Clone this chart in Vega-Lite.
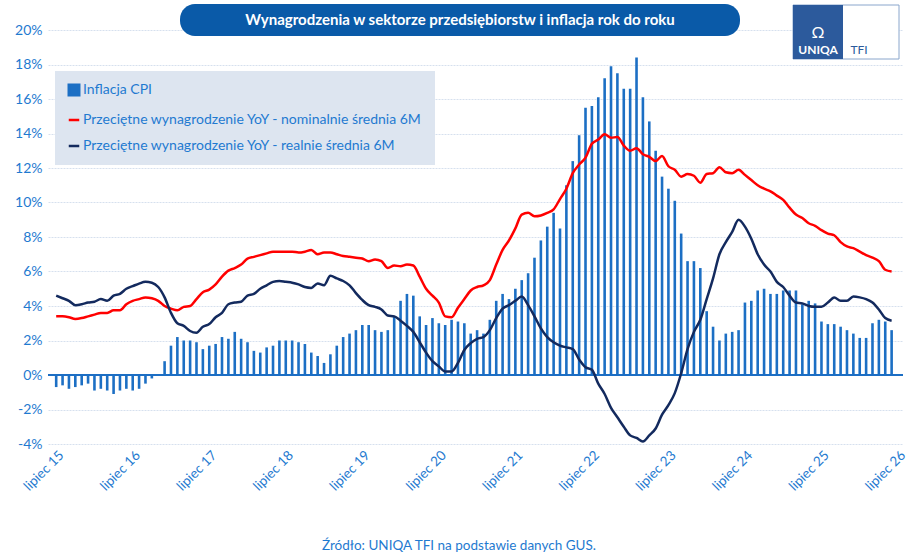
{
"$schema":"https://vega.github.io/schema/vega-lite/v6.json",
"autosize":"none","width":855,"height":414,
"padding":{"left":48,"top":30,"right":6,"bottom":110},
"background":"white",
"config":{"view":{"stroke":null},"font":"Lato","axis":{"labelFont":"Lato","labelColor":"#1f7ad0"}},
"datasets":{"d":[
{"m":0,"cpi":-0.7,"nom":3.4,"real":4.6},{"m":1,"cpi":-0.6,"nom":3.4,"real":4.45},{"m":2,"cpi":-0.8,"nom":3.35,"real":4.3},{"m":3,"cpi":-0.7,"nom":3.25,"real":4.05},{"m":4,"cpi":-0.6,"nom":3.3,"real":4.1},{"m":5,"cpi":-0.5,"nom":3.4,"real":4.2},{"m":6,"cpi":-0.9,"nom":3.5,"real":4.25},{"m":7,"cpi":-0.8,"nom":3.6,"real":4.4},{"m":8,"cpi":-0.9,"nom":3.6,"real":4.3},{"m":9,"cpi":-1.1,"nom":3.75,"real":4.6},
{"m":10,"cpi":-0.9,"nom":3.75,"real":4.7},{"m":11,"cpi":-0.8,"nom":4.1,"real":5.0},{"m":12,"cpi":-0.9,"nom":4.3,"real":5.15},{"m":13,"cpi":-0.8,"nom":4.4,"real":5.3},{"m":14,"cpi":-0.5,"nom":4.5,"real":5.4},{"m":15,"cpi":-0.2,"nom":4.45,"real":5.35},{"m":16,"cpi":0.0,"nom":4.3,"real":5.1},{"m":17,"cpi":0.8,"nom":4.0,"real":4.5},{"m":18,"cpi":1.7,"nom":3.85,"real":3.6},{"m":19,"cpi":2.2,"nom":3.75,"real":3.0},
{"m":20,"cpi":2.0,"nom":3.95,"real":2.85},{"m":21,"cpi":2.0,"nom":4.0,"real":2.55},{"m":22,"cpi":1.9,"nom":4.4,"real":2.45},{"m":23,"cpi":1.5,"nom":4.8,"real":2.8},{"m":24,"cpi":1.7,"nom":4.95,"real":2.95},{"m":25,"cpi":1.8,"nom":5.25,"real":3.35},{"m":26,"cpi":2.2,"nom":5.7,"real":3.6},{"m":27,"cpi":2.1,"nom":6.05,"real":4.1},{"m":28,"cpi":2.5,"nom":6.2,"real":4.2},{"m":29,"cpi":2.1,"nom":6.4,"real":4.25},
{"m":30,"cpi":1.9,"nom":6.75,"real":4.6},{"m":31,"cpi":1.4,"nom":6.85,"real":4.7},{"m":32,"cpi":1.3,"nom":6.95,"real":5.0},{"m":33,"cpi":1.6,"nom":7.05,"real":5.2},{"m":34,"cpi":1.7,"nom":7.15,"real":5.4},{"m":35,"cpi":2.0,"nom":7.15,"real":5.45},{"m":36,"cpi":2.0,"nom":7.15,"real":5.4},{"m":37,"cpi":2.0,"nom":7.15,"real":5.35},{"m":38,"cpi":1.9,"nom":7.1,"real":5.25},{"m":39,"cpi":1.8,"nom":7.15,"real":5.1},
{"m":40,"cpi":1.3,"nom":7.25,"real":5.05},{"m":41,"cpi":1.1,"nom":7.0,"real":5.3},{"m":42,"cpi":0.7,"nom":7.1,"real":5.2},{"m":43,"cpi":1.2,"nom":7.1,"real":5.75},{"m":44,"cpi":1.7,"nom":7.0,"real":5.6},{"m":45,"cpi":2.2,"nom":6.9,"real":5.45},{"m":46,"cpi":2.4,"nom":6.85,"real":5.2},{"m":47,"cpi":2.6,"nom":6.8,"real":4.75},{"m":48,"cpi":2.9,"nom":6.75,"real":4.35},{"m":49,"cpi":2.9,"nom":6.6,"real":4.05},
{"m":50,"cpi":2.6,"nom":6.7,"real":3.95},{"m":51,"cpi":2.5,"nom":6.6,"real":3.8},{"m":52,"cpi":2.6,"nom":6.2,"real":3.45},{"m":53,"cpi":3.4,"nom":6.35,"real":3.4},{"m":54,"cpi":4.3,"nom":6.3,"real":3.15},{"m":55,"cpi":4.7,"nom":6.4,"real":2.85},{"m":56,"cpi":4.6,"nom":6.35,"real":2.5},{"m":57,"cpi":3.4,"nom":5.7,"real":1.9},{"m":58,"cpi":2.9,"nom":5.0,"real":1.3},{"m":59,"cpi":3.3,"nom":4.6,"real":0.8},
{"m":60,"cpi":3.0,"nom":4.2,"real":0.5},{"m":61,"cpi":2.9,"nom":3.4,"real":0.2},{"m":62,"cpi":3.2,"nom":3.35,"real":0.2},{"m":63,"cpi":3.1,"nom":3.9,"real":0.7},{"m":64,"cpi":3.0,"nom":4.4,"real":1.45},{"m":65,"cpi":2.4,"nom":4.9,"real":1.85},{"m":66,"cpi":2.6,"nom":5.1,"real":2.1},{"m":67,"cpi":2.4,"nom":5.2,"real":2.2},{"m":68,"cpi":3.2,"nom":5.5,"real":2.6},{"m":69,"cpi":4.3,"nom":6.4,"real":3.3},
{"m":70,"cpi":4.7,"nom":7.25,"real":3.85},{"m":71,"cpi":4.4,"nom":7.8,"real":4.05},{"m":72,"cpi":5.0,"nom":8.5,"real":4.3},{"m":73,"cpi":5.5,"nom":9.3,"real":4.55},{"m":74,"cpi":5.9,"nom":9.4,"real":4.05},{"m":75,"cpi":6.8,"nom":9.2,"real":3.4},{"m":76,"cpi":7.8,"nom":9.25,"real":2.7},{"m":77,"cpi":8.6,"nom":9.4,"real":2.2},{"m":78,"cpi":9.4,"nom":9.6,"real":1.9},{"m":79,"cpi":8.5,"nom":10.2,"real":1.7},
{"m":80,"cpi":11.0,"nom":10.8,"real":1.6},{"m":81,"cpi":12.4,"nom":11.7,"real":1.5},{"m":82,"cpi":13.9,"nom":12.2,"real":0.9},{"m":83,"cpi":15.5,"nom":12.6,"real":0.45},{"m":84,"cpi":15.6,"nom":13.4,"real":0.3},{"m":85,"cpi":16.1,"nom":13.65,"real":-0.5},{"m":86,"cpi":17.2,"nom":13.95,"real":-1.1},{"m":87,"cpi":17.9,"nom":13.75,"real":-1.9},{"m":88,"cpi":17.5,"nom":13.8,"real":-2.45},{"m":89,"cpi":16.6,"nom":13.3,"real":-3.0},
{"m":90,"cpi":16.6,"nom":13.0,"real":-3.5},{"m":91,"cpi":18.4,"nom":13.15,"real":-3.65},{"m":92,"cpi":16.1,"nom":12.8,"real":-3.85},{"m":93,"cpi":14.7,"nom":12.65,"real":-3.5},{"m":94,"cpi":13.0,"nom":12.4,"real":-3.1},{"m":95,"cpi":11.5,"nom":12.7,"real":-2.3},{"m":96,"cpi":10.8,"nom":12.1,"real":-1.75},{"m":97,"cpi":10.1,"nom":11.9,"real":-1.05},{"m":98,"cpi":8.2,"nom":11.5,"real":0.1},{"m":99,"cpi":6.6,"nom":11.65,"real":1.5},
{"m":100,"cpi":6.6,"nom":11.55,"real":2.5},{"m":101,"cpi":6.2,"nom":11.15,"real":3.2},{"m":102,"cpi":3.7,"nom":11.65,"real":4.4},{"m":103,"cpi":2.8,"nom":11.7,"real":5.6},{"m":104,"cpi":2.0,"nom":12.05,"real":7.0},{"m":105,"cpi":2.4,"nom":11.75,"real":7.7},{"m":106,"cpi":2.5,"nom":11.7,"real":8.3},{"m":107,"cpi":2.6,"nom":11.9,"real":9.0},{"m":108,"cpi":4.2,"nom":11.6,"real":8.6},{"m":109,"cpi":4.3,"nom":11.3,"real":7.9},
{"m":110,"cpi":4.9,"nom":11.0,"real":7.0},{"m":111,"cpi":5.0,"nom":10.8,"real":6.4},{"m":112,"cpi":4.7,"nom":10.65,"real":6.0},{"m":113,"cpi":4.7,"nom":10.4,"real":5.4},{"m":114,"cpi":4.9,"nom":10.15,"real":5.1},{"m":115,"cpi":4.9,"nom":9.7,"real":4.6},{"m":116,"cpi":4.9,"nom":9.3,"real":4.2},{"m":117,"cpi":4.1,"nom":9.1,"real":4.15},{"m":118,"cpi":4.3,"nom":8.8,"real":4.0},{"m":119,"cpi":4.15,"nom":8.65,"real":3.95},
{"m":120,"cpi":3.1,"nom":8.4,"real":3.95},{"m":121,"cpi":2.95,"nom":8.2,"real":4.2},{"m":122,"cpi":2.95,"nom":8.1,"real":4.5},{"m":123,"cpi":2.8,"nom":7.7,"real":4.3},{"m":124,"cpi":2.6,"nom":7.45,"real":4.3},{"m":125,"cpi":2.4,"nom":7.35,"real":4.55},{"m":126,"cpi":2.15,"nom":7.15,"real":4.5},{"m":127,"cpi":2.15,"nom":6.95,"real":4.4},{"m":128,"cpi":3.0,"nom":6.8,"real":4.2},{"m":129,"cpi":3.2,"nom":6.6,"real":3.8},
{"m":130,"cpi":3.1,"nom":6.1,"real":3.3},{"m":131,"cpi":2.6,"nom":6.0,"real":3.15}
]},
"layer":[
{"data":{"name":"d"},"mark":{"type":"bar","width":2.6},
 "encoding":{
  "x":{"field":"m","type":"quantitative","scale":{"domain":[-0.5,132],"nice":false,"zero":false},
   "axis":{"values":[0,12,24,36,48,60,72,84,96,108,120,132],"labelExpr":"'lipiec ' + (15 + datum.value/12)","labelAngle":-45,"labelAlign":"right","labelBaseline":"top","labelPadding":4,"labelFontSize":13.5,"domain":false,"ticks":false,"grid":false,"title":null,"labelOverlap":false,"labelFlush":false}},
  "y":{"field":"cpi","type":"quantitative","scale":{"domain":[-4,20],"nice":false},
   "axis":{"values":[-4,-2,0,2,4,6,8,10,12,14,16,18,20],"tickCount":13,"labelExpr":"datum.value + '%'","labelFontSize":14,"labelPadding":6,"labelOverlap":false,"domain":false,"ticks":false,"gridColor":"#d6e0ee","gridDash":[2,1],"title":null}},
  "color":{"datum":"Inflacja CPI","type":"nominal","scale":{"domain":["Inflacja CPI","Przeciętne wynagrodzenie YoY - nominalnie średnia 6M","Przeciętne wynagrodzenie YoY - realnie średnia 6M"],"range":["#1c6fc4","#ff0000","#132a5e"]},
   "legend":{"title":null,"orient":"none","legendX":7,"legendY":41,"fillColor":"#dde5f0","padding":12,"labelColor":"#1f7ad0","labelFontSize":14,"labelFont":"Lato","labelLimit":600,"rowPadding":12,"symbolSize":110,"labelOffset":2,
    "encode":{"symbols":{"update":{"shape":{"signal":"datum.value === 'Inflacja CPI' ? 'square' : 'stroke'"},"stroke":{"signal":"datum.value === 'Inflacja CPI' ? '#3a63a0' : scale('color', datum.value)"},"fill":{"signal":"datum.value === 'Inflacja CPI' ? '#3a63a0' : scale('color', datum.value)"},"strokeWidth":{"value":2.5}}}}}}}},
{"data":{"name":"d"},"mark":{"type":"rule","color":"#1c6fc4","strokeWidth":1.2},"encoding":{"y":{"datum":0,"type":"quantitative","axis":{"values":[-4,-2,0,2,4,6,8,10,12,14,16,18,20],"tickCount":13,"labelExpr":"datum.value + '%'","labelFontSize":14,"labelPadding":6,"labelOverlap":false,"domain":false,"ticks":false,"gridColor":"#d6e0ee","gridDash":[2,1],"title":null}}}},
{"data":{"name":"d"},"mark":{"type":"line","strokeWidth":2.5,"interpolate":"monotone"},
 "encoding":{"x":{"field":"m","type":"quantitative"},"y":{"field":"nom","type":"quantitative","axis":{"values":[-4,-2,0,2,4,6,8,10,12,14,16,18,20],"tickCount":13,"labelExpr":"datum.value + '%'","labelFontSize":14,"labelPadding":6,"labelOverlap":false,"domain":false,"ticks":false,"gridColor":"#d6e0ee","gridDash":[2,1],"title":null}},"color":{"datum":"Przeciętne wynagrodzenie YoY - nominalnie średnia 6M"}}},
{"data":{"name":"d"},"mark":{"type":"line","strokeWidth":2.5,"interpolate":"monotone"},
 "encoding":{"x":{"field":"m","type":"quantitative"},"y":{"field":"real","type":"quantitative","axis":{"values":[-4,-2,0,2,4,6,8,10,12,14,16,18,20],"tickCount":13,"labelExpr":"datum.value + '%'","labelFontSize":14,"labelPadding":6,"labelOverlap":false,"domain":false,"ticks":false,"gridColor":"#d6e0ee","gridDash":[2,1],"title":null}},"color":{"datum":"Przeciętne wynagrodzenie YoY - realnie średnia 6M"}}},
{"data":{"values":[{}]},"mark":{"type":"rect","color":"#0a5aa8","cornerRadius":15},"encoding":{"x":{"value":132},"x2":{"value":692},"y":{"value":-26},"y2":{"value":6}}},
{"data":{"values":[{}]},"mark":{"type":"text","color":"white","font":"Lato","fontWeight":"bold","fontSize":15,"align":"center","baseline":"middle","text":"Wynagrodzenia w sektorze przedsiębiorstw i inflacja rok do roku"},"encoding":{"x":{"value":412},"y":{"value":-10}}},
{"data":{"values":[{}]},"mark":{"type":"rect","fill":"white","stroke":"#8aa6cc","strokeWidth":1},"encoding":{"x":{"value":745},"x2":{"value":851},"y":{"value":-25},"y2":{"value":29}}},
{"data":{"values":[{}]},"mark":{"type":"rect","fill":"#2c5a9c"},"encoding":{"x":{"value":745},"x2":{"value":795},"y":{"value":-25},"y2":{"value":29}}},
{"data":{"values":[{}]},"mark":{"type":"text","color":"white","font":"Lato","fontWeight":"bold","fontSize":12,"align":"center","text":"UNIQA"},"encoding":{"x":{"value":770},"y":{"value":20}}},
{"data":{"values":[{}]},"mark":{"type":"text","color":"white","font":"Lato","fontSize":16,"align":"center","text":"Ω"},"encoding":{"x":{"value":770},"y":{"value":3}}},
{"data":{"values":[{}]},"mark":{"type":"text","color":"#2c5a9c","font":"Lato","fontSize":12,"align":"center","text":"TFI"},"encoding":{"x":{"value":811},"y":{"value":20}}},
{"data":{"values":[{}]},"mark":{"type":"text","color":"#1f7ad0","font":"Lato","fontSize":13.5,"align":"center","text":"Źródło: UNIQA TFI na podstawie danych GUS."},"encoding":{"x":{"value":411},"y":{"value":516}}}
]
}
